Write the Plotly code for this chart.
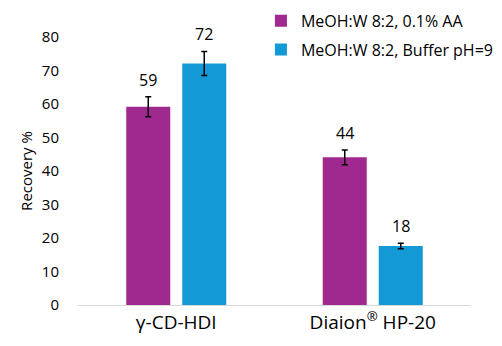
import plotly.graph_objects as go

categories = ["γ-CD-HDI", "Diaion<sup>®</sup> HP-20"]
series_names = ["MeOH:W 8:2, 0.1% AA", "MeOH:W 8:2, Buffer pH=9"]
aa_values = [59.2, 44.1]
aa_errors = [3.0, 2.2]
aa_labels = ["59", "44"]
buf_values = [72.1, 17.6]
buf_errors = [3.6, 0.8]
buf_labels = ["72", "18"]
y_ticks = [0, 10, 20, 30, 40, 50, 60, 70, 80]

colors = ["#A0298F", "#139AD6"]
FONT = "Open Sans"

fig = go.Figure()
for name, vals, errs, col, grp in [
    (series_names[0], aa_values, aa_errors, colors[0], "a"),
    (series_names[1], buf_values, buf_errors, colors[1], "b"),
]:
    fig.add_trace(go.Bar(
        x=categories, y=vals, name=name, marker_color=col,
        marker_line_width=0, legendgroup=grp,
        error_y=dict(type="data", array=errs, visible=True,
                     color="black", thickness=1.5, width=3),
    ))

# value labels above error bars
for offset_idx, (vals, errs, labs) in enumerate([(aa_values, aa_errors, aa_labels),
                                                 (buf_values, buf_errors, buf_labels)]):
    for i, (v, e, t) in enumerate(zip(vals, errs, labs)):
        fig.add_annotation(
            x=categories[i], y=v + e, text=t, showarrow=False,
            xshift=(-28 if offset_idx == 0 else 28), yshift=17,
            yanchor="middle", font=dict(family=FONT, size=16, color="black"),
        )

# page body adds an 8px offset, so the figure is 8px smaller than the window
fig.update_layout(
    width=494, height=338,
    margin=dict(l=70, r=31, t=29, b=41, autoexpand=False),
    paper_bgcolor="white", plot_bgcolor="white",
    barmode="group", bargap=0.43, bargroupgap=0.214,
    font=dict(family=FONT, color="black"),
    showlegend=True,
    legend=dict(
        x=0.4655, y=1.124, xanchor="left", yanchor="top",
        font=dict(family=FONT, size=16, color="black"),
        traceorder="grouped", tracegroupgap=5,
        bgcolor="rgba(0,0,0,0)",
    ),
    xaxis=dict(
        showline=True, linecolor="#D9D9D9", linewidth=1, automargin=False,
        ticks="", tickfont=dict(family=FONT, size=19, color="black"),
        showgrid=False,
    ),
    yaxis=dict(
        range=[0, 80], tickvals=y_ticks, showgrid=False, zeroline=False,
        showline=False, ticks="", ticklabelstandoff=18, automargin=False,
        tickfont=dict(family=FONT, size=15, color="black"),
        title=dict(text="Recovery %", font=dict(family=FONT, size=15, color="black"), standoff=5),
    ),
)

fig.write_html("out.html")
